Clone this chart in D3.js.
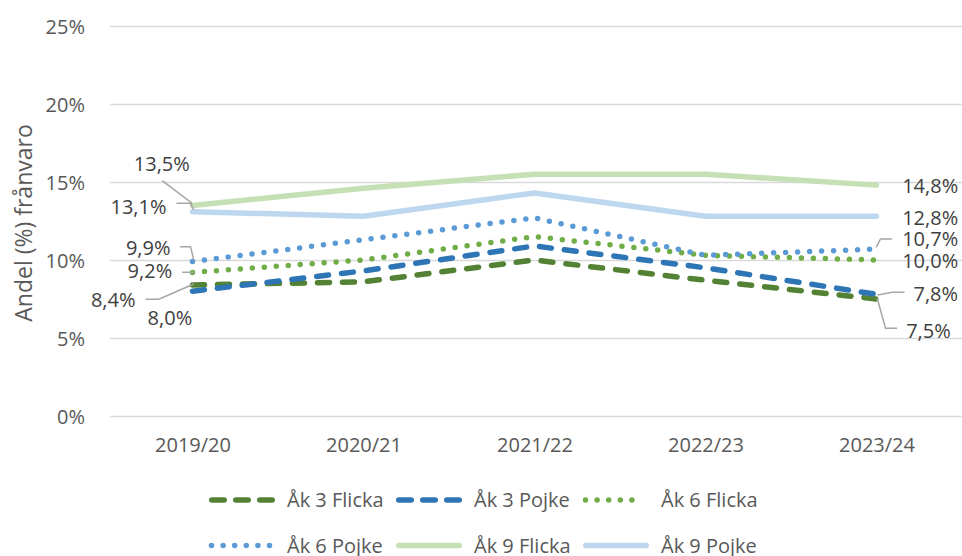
<!DOCTYPE html>
<html lang="sv">
<head>
<meta charset="utf-8">
<script src="https://cdn.jsdelivr.net/npm/d3@7/dist/d3.min.js"></script>
<style>
  html, body { margin: 0; padding: 0; background: #fff; }
  svg { display: block; font-family: "Open Sans", "Noto Sans", sans-serif; }
</style>
</head>
<body>
<svg id="chart" width="962" height="556"></svg>
<script>
// Läsår på x-axeln
const categories = ["2019/20", "2020/21", "2021/22", "2022/23", "2023/24"];

// Andel frånvaro (%) per årskurs och kön
const ak3Flicka = [8.4, 8.6, 10.0, 8.7, 7.5];
const ak3Pojke  = [8.0, 9.3, 10.9, 9.5, 7.8];
const ak6Flicka = [9.2, 10.0, 11.5, 10.3, 10.0];
const ak6Pojke  = [9.9, 11.3, 12.7, 10.3, 10.7];
const ak9Flicka = [13.5, 14.6, 15.5, 15.5, 14.8];
const ak9Pojke  = [13.1, 12.8, 14.3, 12.8, 12.8];

const seriesNames = ["Åk 3 Flicka", "Åk 3 Pojke", "Åk 6 Flicka", "Åk 6 Pojke", "Åk 9 Flicka", "Åk 9 Pojke"];
const yTicks = [0, 5, 10, 15, 20, 25];

// Line styles
const styles = [
  { color: "#548235", width: 5.5, dash: "12,13", legendDash: "12.5,11.5", dotted: false },
  { color: "#2e75b6", width: 5.5, dash: "12,13", legendDash: "12.5,11.5", dotted: false },
  { color: "#70ad47", width: 5.5, dash: "0,12",  legendDash: "0,11.6",    dotted: true },
  { color: "#5b9bd5", width: 5.5, dash: "0,12",  legendDash: "0,11.6",    dotted: true },
  { color: "#c5e0b4", width: 5.5, dash: null,    legendDash: null,        dotted: false },
  { color: "#bdd7ee", width: 5.5, dash: null,    legendDash: null,        dotted: false }
];

const seriesValues = [ak3Flicka, ak3Pojke, ak6Flicka, ak6Pojke, ak9Flicka, ak9Pojke];
const series = seriesNames.map((name, i) => ({ name, values: seriesValues[i], style: styles[i] }));

// Data label placement: offsets from the labelled point, plus optional leader line
const labelLayout = [
  // first category (text anchored at its right end)
  { s: 4, i: 0, dx: -2.7, dy: -41.4, anchor: "end", leader: [[-30.3, -24.7], [-0.3, -2.1]] },
  { s: 5, i: 0, dx: -26,  dy: -5,    anchor: "end", leader: [[-16, -8.3], [-2, -8.3], [1.3, -1.6]] },
  { s: 3, i: 0, dx: -22,  dy: -13.6, anchor: "end", leader: [[-12.7, -14.9], [-2, -14.9], [1.3, -1.6]] },
  { s: 2, i: 0, dx: -20.3, dy: -1,   anchor: "end", leader: [[-10.3, -0.2], [1.3, -0.2]] },
  { s: 0, i: 0, dx: -57,  dy: 15.5,  anchor: "end", leader: [[-47, 14.3], [-33.7, 14.3], [1.3, -1]] },
  { s: 1, i: 0, dx: -0.3, dy: 26.8,  anchor: "end", leader: null },
  // last category (text anchored at its left end)
  { s: 4, i: 4, dx: 25.7, dy: 0.9,   anchor: "start", leader: null },
  { s: 5, i: 4, dx: 25.7, dy: 1.2,   anchor: "start", leader: null },
  { s: 3, i: 4, dx: 25.7, dy: -10.1, anchor: "start", leader: [[-0.3, -1.8], [4, -10.1], [15.7, -10.1]] },
  { s: 2, i: 4, dx: 25.7, dy: 0.5,   anchor: "start", leader: null },
  { s: 1, i: 4, dx: 37,   dy: -0.3,  anchor: "start", leader: [[1, 0.7], [16, -2], [28, -2]] },
  { s: 0, i: 4, dx: 29.7, dy: 31.5,  anchor: "start", leader: [[0.7, -0.7], [9, 29.3], [20.7, 29.3]] }
];

const svg = d3.select("#chart");
const plot = { left: 107, right: 962, top: 26, bottom: 416 };

const x = d3.scalePoint().domain(categories).range([plot.left, plot.right]).padding(0.5);
const y = d3.scaleLinear().domain([0, 25]).range([plot.bottom, plot.top]);

svg.append("rect").attr("width", 962).attr("height", 556).attr("fill", "#fff");

// Horizontal gridlines
svg.append("g")
  .selectAll("line")
  .data(yTicks)
  .join("line")
  .attr("x1", plot.left + 3).attr("x2", plot.right)
  .attr("y1", d => Math.round(y(d)) + 0.5).attr("y2", d => Math.round(y(d)) + 0.5)
  .attr("stroke", "#d9d9d9").attr("stroke-width", 1.3);

// Y axis labels
const yAxis = d3.axisLeft(y).tickValues(yTicks).tickSize(0).tickPadding(0)
  .tickFormat(d => d + "%");
svg.append("g")
  .attr("transform", `translate(85,0)`)
  .call(yAxis)
  .call(g => g.select(".domain").remove())
  .call(g => g.selectAll("text")
    .attr("font-family", "Open Sans, sans-serif")
    .attr("font-size", 20)
    .attr("fill", "#595959")
    .attr("dy", "0.35em"));

// X axis labels
const xAxis = d3.axisBottom(x).tickSize(0).tickPadding(0);
svg.append("g")
  .attr("transform", `translate(0,${plot.bottom})`)
  .call(xAxis)
  .call(g => g.select(".domain").remove())
  .call(g => g.selectAll("text")
    .attr("font-family", "Open Sans, sans-serif")
    .attr("font-size", 20)
    .attr("fill", "#595959")
    .attr("y", 29)
    .attr("dy", "0.35em"));

// Y axis title
svg.append("text")
  .attr("transform", `translate(24,${(plot.top + plot.bottom) / 2 + 2}) rotate(-90)`)
  .attr("text-anchor", "middle")
  .attr("dy", "0.35em")
  .attr("font-size", 23)
  .attr("fill", "#595959")
  .text("Andel (%) frånvaro");

// Series lines
const line = d3.line()
  .x((d, i) => x(categories[i]))
  .y(d => y(d));

svg.append("g")
  .selectAll("path")
  .data(series)
  .join("path")
  .attr("d", d => line(d.values))
  .attr("fill", "none")
  .attr("stroke", d => d.style.color)
  .attr("stroke-width", d => d.style.width)
  .attr("stroke-linecap", "round")
  .attr("stroke-linejoin", "round")
  .attr("stroke-dasharray", d => d.style.dash);

// Data labels with leader lines
const fmt = v => v.toFixed(1).replace(".", ",") + "%";
const labels = svg.append("g");
labelLayout.forEach(l => {
  const v = series[l.s].values[l.i];
  const px = x(categories[l.i]);
  const py = y(v);
  if (l.leader) {
    labels.append("path")
      .attr("d", d3.line()(l.leader.map(([ox, oy]) => [px + ox, py + oy])))
      .attr("fill", "none")
      .attr("stroke", "#a6a6a6")
      .attr("stroke-width", 1.5);
  }
  labels.append("text")
    .attr("x", px + l.dx)
    .attr("y", py + l.dy)
    .attr("dy", "0.35em")
    .attr("text-anchor", l.anchor)
    .attr("font-size", 20)
    .attr("fill", "#404040")
    .text(fmt(v));
});

// Legend: two rows of three
const legend = svg.append("g");
series.forEach((s, k) => {
  const col = k % 3, row = Math.floor(k / 3);
  const gx = 209 + col * 187;
  const gy = 500 + row * 45.5;
  const x1 = s.style.dotted ? gx + 2.5 : gx + 2.75;
  const x2 = s.style.dotted ? gx + 60.5 : gx + 63.25;
  legend.append("line")
    .attr("x1", x1).attr("x2", x2)
    .attr("y1", gy).attr("y2", gy)
    .attr("stroke", s.style.color)
    .attr("stroke-width", s.style.width)
    .attr("stroke-linecap", "round")
    .attr("stroke-dasharray", s.style.legendDash);
  legend.append("text")
    .attr("x", gx + 78)
    .attr("y", gy)
    .attr("dy", "0.35em")
    .attr("font-size", 20)
    .attr("fill", "#595959")
    .text(s.name);
});
</script>
</body>
</html>
